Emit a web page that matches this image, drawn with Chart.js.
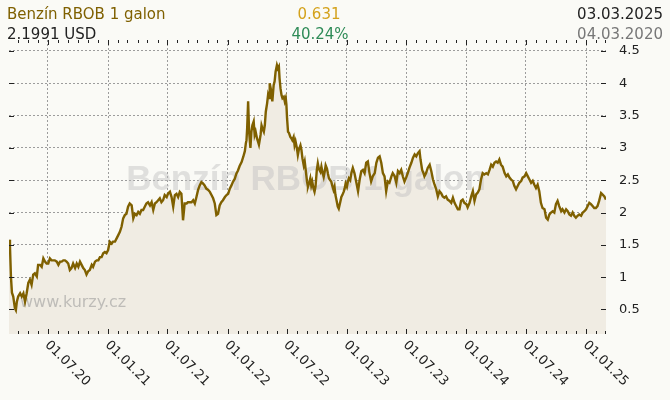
<!DOCTYPE html>
<html><head><meta charset="utf-8">
<script src="https://cdn.jsdelivr.net/npm/chart.js@4"></script>
<style>html,body{margin:0;padding:0;background:#fafaf6;}canvas{display:block}</style>
</head><body>
<canvas id="c" width="670" height="400"></canvas>
<script>
// ---- data ----
const startDate = '2020-03-04';
const endDate = '2025-03-03';
const titleText = 'Benzín RBOB 1 galon';
const lastPriceText = '2.1991 USD';
const changeText = '0.631';
const changePctText = '40.24%';
const dateToText = '03.03.2025';
const dateFromText = '04.03.2020';
const watermarkText = 'Benzín RBOB 1 galon';
const siteText = 'www.kurzy.cz';
const xTickLabels = ['01.07.20','01.01.21','01.07.21','01.01.22','01.07.22','01.01.23','01.07.23','01.01.24','01.07.24','01.01.25'];
const yTicks = [0.5, 1, 1.5, 2, 2.5, 3, 3.5, 4, 4.5];
// days since startDate
const dayOffsets = [0,3,6,9,13,18,21,24,28,34,39,44,49,54,59,64,69,74,79,85,89,95,100,105,110,115,120,125,130,135,140,146,151,156,161,166,171,176,181,186,191,196,202,207,212,217,222,227,232,237,242,247,253,257,263,268,273,278,283,288,293,298,303,308,314,318,324,329,334,339,344,349,354,359,364,369,375,380,385,390,395,400,405,410,415,420,425,431,436,441,446,451,456,461,466,471,476,482,486,492,497,502,507,512,517,522,527,532,537,543,547,553,558,563,568,573,578,583,588,593,598,603,609,614,619,624,629,634,639,644,649,654,660,665,670,675,680,685,690,695,700,705,711,716,721,724,726,728,731,734,738,741,744,748,751,754,758,761,764,769,772,775,779,782,785,789,792,795,797,802,805,809,812,815,819,822,825,827,830,833,836,840,843,846,848,850,853,856,860,863,866,870,873,876,880,883,886,891,894,897,901,904,907,911,914,917,921,924,927,931,934,937,941,944,947,952,955,958,962,965,968,972,975,978,982,985,988,992,995,998,1002,1005,1008,1013,1016,1019,1023,1026,1029,1033,1036,1039,1043,1047,1051,1056,1062,1067,1072,1077,1082,1087,1092,1097,1102,1107,1112,1118,1123,1128,1133,1138,1143,1148,1153,1158,1163,1169,1173,1179,1184,1189,1194,1199,1204,1209,1214,1219,1224,1230,1235,1240,1245,1250,1255,1258,1263,1267,1270,1275,1280,1286,1291,1296,1301,1306,1311,1316,1321,1326,1331,1336,1341,1347,1352,1357,1362,1367,1372,1377,1382,1387,1392,1398,1402,1408,1413,1418,1423,1428,1433,1438,1443,1448,1453,1459,1464,1469,1474,1479,1484,1489,1494,1499,1504,1509,1515,1520,1525,1530,1535,1540,1545,1550,1555,1560,1566,1570,1576,1581,1586,1591,1596,1601,1606,1611,1616,1621,1626,1631,1637,1642,1647,1652,1657,1662,1667,1672,1677,1682,1688,1692,1698,1703,1708,1713,1718,1723,1728,1733,1738,1743,1749,1754,1759,1764,1769,1774,1779,1784,1789,1794,1799,1804,1810,1814,1820,1825];
const prices = [1.58,1.47,1.00,0.76,0.70,0.52,0.49,0.62,0.70,0.75,0.70,0.75,0.62,0.75,0.91,0.96,0.88,1.04,1.06,1.01,1.19,1.19,1.16,1.29,1.24,1.21,1.21,1.29,1.26,1.26,1.26,1.24,1.19,1.24,1.24,1.26,1.26,1.24,1.21,1.11,1.14,1.21,1.14,1.21,1.16,1.24,1.19,1.14,1.11,1.04,1.09,1.11,1.19,1.16,1.24,1.26,1.26,1.31,1.31,1.37,1.39,1.37,1.42,1.55,1.52,1.55,1.55,1.60,1.65,1.70,1.78,1.91,1.96,1.98,2.09,2.14,2.11,1.91,1.98,1.96,2.01,1.98,2.04,2.04,2.09,2.14,2.16,2.11,2.16,2.04,2.14,2.16,2.19,2.22,2.16,2.19,2.27,2.24,2.29,2.32,2.24,2.09,2.27,2.29,2.24,2.32,2.29,1.88,2.14,2.14,2.16,2.16,2.16,2.19,2.14,2.24,2.35,2.42,2.47,2.45,2.42,2.37,2.35,2.32,2.27,2.22,2.14,1.96,1.98,2.11,2.16,2.19,2.24,2.27,2.29,2.37,2.42,2.48,2.52,2.60,2.65,2.72,2.78,2.86,2.95,3.07,3.12,3.30,3.72,3.25,3.00,3.25,3.35,3.41,3.20,3.25,3.15,3.10,3.05,3.20,3.35,3.30,3.25,3.35,3.56,3.69,3.82,3.77,4.00,3.87,3.72,3.97,4.03,4.18,4.28,4.23,4.26,4.08,3.92,3.82,3.77,3.79,3.72,3.77,3.67,3.46,3.25,3.23,3.17,3.15,3.12,3.17,3.04,3.10,3.00,2.89,2.97,3.04,2.97,2.84,2.73,2.79,2.66,2.48,2.40,2.45,2.53,2.42,2.48,2.37,2.32,2.40,2.66,2.76,2.68,2.63,2.71,2.63,2.55,2.63,2.73,2.68,2.60,2.53,2.50,2.48,2.42,2.35,2.40,2.27,2.17,2.09,2.06,2.17,2.24,2.27,2.32,2.37,2.45,2.40,2.48,2.53,2.50,2.62,2.69,2.61,2.46,2.33,2.51,2.64,2.66,2.61,2.77,2.79,2.61,2.48,2.56,2.61,2.77,2.85,2.87,2.77,2.61,2.56,2.33,2.48,2.46,2.56,2.61,2.56,2.46,2.64,2.61,2.66,2.56,2.48,2.54,2.61,2.69,2.77,2.85,2.90,2.87,2.92,2.95,2.82,2.66,2.61,2.56,2.61,2.69,2.74,2.64,2.51,2.43,2.36,2.25,2.33,2.30,2.25,2.23,2.25,2.20,2.18,2.15,2.23,2.15,2.10,2.05,2.05,2.18,2.20,2.15,2.13,2.08,2.15,2.25,2.33,2.18,2.28,2.31,2.36,2.51,2.61,2.59,2.61,2.59,2.66,2.74,2.71,2.77,2.79,2.77,2.82,2.74,2.71,2.61,2.56,2.59,2.54,2.51,2.49,2.41,2.36,2.41,2.46,2.49,2.54,2.56,2.61,2.56,2.51,2.46,2.49,2.43,2.38,2.43,2.33,2.15,2.07,2.05,1.92,1.89,1.97,2.00,2.02,2.00,2.13,2.18,2.10,2.02,2.05,2.00,2.05,2.02,1.97,1.95,2.00,1.95,1.92,1.95,1.97,1.95,2.00,2.02,2.05,2.10,2.15,2.13,2.10,2.07,2.07,2.10,2.18,2.30,2.28,2.25,2.20];

// ---- helpers ----
const DAY = 86400000;
const t0 = Date.parse(startDate + 'T00:00:00Z');
const totalDays = Math.round((Date.parse(endDate + 'T00:00:00Z') - t0) / DAY);
function labelToDay(lbl) {
  const p = lbl.split('.');
  return Math.round((Date.UTC(2000 + (+p[2]), (+p[1]) - 1, +p[0]) - t0) / DAY);
}
const majorTicks = xTickLabels.map(l => ({ value: labelToDay(l), half: true, text: l }));
const monthTicks = [];
for (let y = 2020; y <= 2025; y++) {
  for (let m = 0; m < 12; m++) {
    const d = Math.round((Date.UTC(y, m, 1) - t0) / DAY);
    if (d < 0 || d > totalDays) continue;
    const mj = majorTicks.find(t => t.value === d);
    monthTicks.push(mj ? mj : { value: d, half: false, text: '' });
  }
}
const points = dayOffsets.map((d, i) => ({ x: d, y: prices[i] }));

const LINE = '#7f6000';
const GRID = '#9c9c9c';

const decor = {
  id: 'decor',
  afterDatasetDraw(chart, args) {
    if (args.index !== 1) return;
    const ctx = chart.ctx;
    ctx.save();
    ctx.fillStyle = 'rgba(190,190,190,0.45)';
    ctx.font = 'bold 35px "Liberation Sans", Arial, sans-serif';
    ctx.textAlign = 'center';
    ctx.textBaseline = 'alphabetic';
    ctx.fillText(watermarkText, 306, 190);
    ctx.fillStyle = 'rgba(150,150,150,0.55)';
    ctx.font = '16px "DejaVu Sans", sans-serif';
    ctx.textAlign = 'left';
    ctx.fillText(siteText, 20, 307);
    ctx.restore();
  },
  afterDraw(chart) {
    const ctx = chart.ctx, a = chart.chartArea;
    const xs = chart.scales.x, ys = chart.scales.y;
    ctx.save();
    ctx.strokeStyle = '#222';
    ctx.lineWidth = 1;
    ctx.beginPath();
    monthTicks.forEach(t => {
      const px = Math.round(xs.getPixelForValue(t.value)) + 0.5;
      const len = t.half ? 5 : 3;
      ctx.moveTo(px, a.bottom); ctx.lineTo(px, a.bottom - len);
      ctx.moveTo(px, a.top); ctx.lineTo(px, a.top + len);
    });
    yTicks.forEach(v => {
      const py = Math.round(ys.getPixelForValue(v)) + 0.5;
      ctx.moveTo(a.left, py); ctx.lineTo(a.left + 5, py);
      ctx.moveTo(a.right, py); ctx.lineTo(a.right - 5, py);
    });
    ctx.stroke();
    // rotated x labels
    ctx.fillStyle = '#222';
    ctx.font = '13px "DejaVu Sans", sans-serif';
    ctx.textAlign = 'left';
    ctx.textBaseline = 'middle';
    majorTicks.forEach(t => {
      const px = xs.getPixelForValue(t.value);
      ctx.save();
      ctx.translate(px - 1, a.bottom + 9);
      ctx.rotate(Math.PI / 4);
      ctx.fillText(t.text, 0, 0);
      ctx.restore();
    });
    // header
    ctx.textBaseline = 'alphabetic';
    ctx.font = '15px "DejaVu Sans", sans-serif';
    ctx.textAlign = 'left';
    ctx.fillStyle = LINE;
    ctx.fillText(titleText, 7, 19);
    ctx.fillStyle = '#222';
    ctx.fillText(lastPriceText, 7, 39);
    ctx.textAlign = 'center';
    ctx.fillStyle = '#d4a21c';
    ctx.fillText(changeText, 319, 19);
    ctx.fillStyle = '#2e8b57';
    ctx.fillText(changePctText, 320, 39);
    ctx.textAlign = 'right';
    ctx.fillStyle = '#222';
    ctx.fillText(dateToText, 663, 19);
    ctx.fillStyle = '#777';
    ctx.fillText(dateFromText, 663, 39);
    ctx.restore();
  }
};

new Chart(document.getElementById('c'), {
  type: 'line',
  data: {
    datasets: [
      { data: points, borderColor: LINE, borderWidth: 2.4, pointRadius: 0, tension: 0, fill: false, borderJoinStyle: 'miter' },
      { data: points, borderWidth: 0, borderColor: 'rgba(0,0,0,0)', backgroundColor: '#f0ece3', pointRadius: 0, tension: 0, fill: 'start' }
    ]
  },
  options: {
    responsive: false,
    animation: false,
    events: [],
    layout: { padding: { top: 40, left: 9, right: 0, bottom: 0 } },
    plugins: { legend: { display: false }, tooltip: { enabled: false } },
    scales: {
      x: {
        type: 'linear', min: 0, max: totalDays,
        afterBuildTicks: s => { s.ticks = monthTicks.map(t => ({ value: t.value, half: t.half })); },
        afterFit: s => { s.height = 66; },
        ticks: { display: false },
        grid: { color: c => (c.tick && c.tick.half) ? GRID : 'rgba(0,0,0,0)', drawTicks: false, lineWidth: 1 },
        border: { display: false, dash: [2, 2] }
      },
      y: {
        position: 'right', min: 0.12, max: 4.67,
        afterBuildTicks: s => { s.ticks = yTicks.map(v => ({ value: v })); },
        afterFit: s => { s.width = 64; },
        ticks: { padding: 13, color: '#222', font: { family: 'DejaVu Sans', size: 13 }, callback: v => String(v) },
        grid: { color: GRID, drawTicks: false, lineWidth: 1 },
        border: { display: false, dash: [2, 2] }
      }
    }
  },
  plugins: [decor]
});
</script>
</body></html>
